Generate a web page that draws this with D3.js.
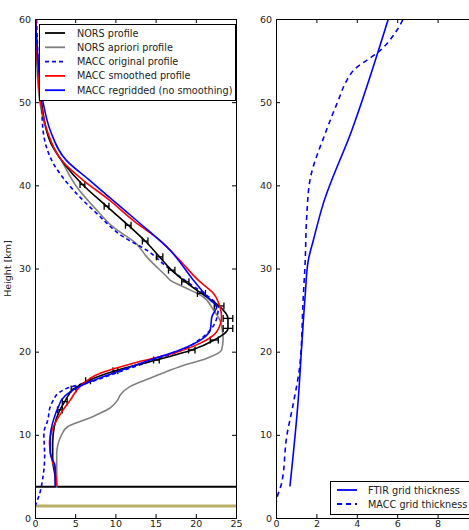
<!DOCTYPE html>
<html>
<head>
<meta charset="utf-8">
<script src="https://cdn.jsdelivr.net/npm/d3@7"></script>
<style>
  body { margin: 0; background: #fff; }
  svg { display: block; font-family: "DejaVu Sans", sans-serif; }
</style>
</head>
<body>
<svg width="469" height="530"></svg>
<script>
(function (d3) {
  'use strict';

  // left panel: profiles (x value, height km)
  var norsH   = [3.8, 5, 7, 9, 11, 13, 14.0, 15.5, 16.5, 17.7, 19.0, 20.2, 21.4, 22.8, 24.0, 25.5, 27.0, 28.4, 29.8, 31.4, 33.3, 35.2, 37.5, 40.1, 42.5, 45, 50, 55, 60];
  var norsV   = [2.6, 2.5, 2.2, 2.2, 2.4, 3.1, 3.7, 4.8, 6.6, 10.0, 15.1, 19.5, 22.3, 24.0, 24.0, 22.9, 20.7, 18.7, 17.0, 15.5, 13.7, 11.6, 8.9, 5.9, 3.7, 2.0, 0.8, 0.3, 0.1];
  var norsErr = [0, 0, 0, 0, 0, 0.3, 0.3, 0.3, 0.3, 0.3, 0.35, 0.4, 0.5, 0.6, 0.6, 0.6, 0.5, 0.45, 0.4, 0.4, 0.35, 0.35, 0.3, 0.3, 0, 0, 0, 0, 0];

  var aprH = [3.6, 6.2, 7.8, 9.0, 10.0, 11.0, 11.8, 12.6, 13.2, 14.2, 14.8, 15.8, 16.8, 18.2, 19.2, 20.2, 21.5, 22.6, 24.0, 25.0, 26.6, 27.6, 28.6, 29.0, 31.4, 33.0, 35.0, 37.0, 39.8, 42.6, 45.4, 50, 55, 60];
  var aprV = [2.7, 2.7, 2.7, 2.9, 3.3, 4.1, 6.2, 8.1, 9.3, 10.3, 10.6, 11.8, 14.3, 18.0, 21.4, 23.2, 23.4, 23.3, 22.9, 22.2, 20.9, 18.9, 16.8, 16.4, 13.9, 12.6, 9.7, 7.7, 5.2, 3.5, 1.9, 0.6, 0.2, 0.05];

  var maccOrigH = [1.4, 3.0, 5.0, 7.4, 10.2, 11.8, 13.4, 14.2, 15.0, 15.6, 16.4, 17.4, 19.0, 20.2, 21.4, 22.6, 24.0, 25.4, 26.6, 28.0, 30.2, 32.2, 33.8, 36.6, 39.4, 42.6, 46.6, 49.9, 55, 60];
  var maccOrigV = [0, 0.6, 1.0, 1.2, 1.1, 1.6, 1.9, 2.3, 2.9, 4.0, 7.0, 10.0, 14.8, 18.3, 20.4, 21.8, 22.6, 22.8, 21.6, 19.5, 16.4, 13.9, 11.0, 7.7, 4.8, 2.3, 1.0, 0.8, 0.4, 0.2];

  var maccSmoothH = [3.8, 5.8, 7.0, 9.0, 11.0, 13.0, 14.2, 15.8, 17.4, 18.6, 19.8, 21.0, 22.4, 24.2, 25.4, 27.0, 28.6, 31.0, 33.4, 35.8, 38.2, 40.6, 42.8, 46.6, 50, 55, 60];
  var maccSmoothV = [2.7, 2.5, 2.1, 1.8, 2.3, 3.5, 4.4, 5.6, 8.1, 12.2, 17.2, 20.5, 22.6, 23.2, 23.0, 22.2, 20.3, 18.0, 15.5, 12.2, 9.3, 6.0, 3.5, 1.5, 0.7, 0.3, 0.1];

  var maccRegH = [3.8, 6.2, 7.8, 9.8, 11.8, 13.8, 14.2, 15.2, 16.2, 17.4, 19.0, 20.2, 21.6, 22.6, 24.2, 25.4, 26.2, 28.6, 32.2, 35.8, 38.2, 40.6, 43.0, 46.6, 50, 55, 60];
  var maccRegV = [2.5, 2.5, 1.9, 1.9, 2.3, 3.1, 3.3, 4.4, 6.4, 9.7, 14.3, 18.0, 20.9, 21.8, 22.0, 22.6, 21.8, 19.7, 16.8, 12.6, 9.7, 6.8, 3.9, 1.9, 1.0, 0.4, 0.05];

  // reference heights (horizontal lines)
  var stationAlt = 3.77;
  var groundAlt = 1.45;

  // right panel: grid thickness
  var ftirH = [3.8, 14.2, 20.6, 26.6, 31.0, 33.4, 37.8, 46.6, 60];
  var ftirV = [0.69, 1.1, 1.27, 1.44, 1.6, 1.85, 2.34, 3.75, 5.56];
  var maccGridH = [1.5, 2.2, 4.2, 9.8, 13.8, 18.6, 26.6, 30.6, 36.2, 40.6, 46.2, 50.2, 52.6, 53.8, 56.2, 58.7, 60];
  var maccGridV = [0, 0.03, 0.28, 0.53, 0.86, 1.19, 1.35, 1.44, 1.52, 1.68, 2.43, 3.08, 3.5, 3.83, 5.15, 6.0, 6.3];

  var leftTicksX = [0, 5, 10, 15, 20, 25];
  var rightTicksX = [0, 2, 4, 6, 8];
  var ticksY = [0, 10, 20, 30, 40, 50, 60];

  var svg = d3.select('svg');

  var top = 19, bottom = 518;
  var y = d3.scaleLinear().domain([0, 60]).range([bottom, top]);
  var xL = d3.scaleLinear().domain([0, 25]).range([35, 236]);
  var xR = d3.scaleLinear().domain([0, 10]).range([276, 478]);

  function zip(h, v) {
    return h.map(function (d, i) { return { h: d, v: v[i] }; });
  }

  function drawFrame(x, xticks) {
    var x0 = x.range()[0], x1 = x.range()[1];
    var g = svg.append('g');
    g.append('g').attr('transform', 'translate(0,' + bottom + ')')
      .call(d3.axisBottom(x).tickValues(xticks).tickSize(-4).tickPadding(2).tickFormat(d3.format('d')));
    g.append('g').attr('transform', 'translate(0,' + top + ')')
      .call(d3.axisTop(x).tickValues(xticks).tickSize(-4).tickFormat(''));
    g.append('g').attr('transform', 'translate(' + x0 + ',0)')
      .call(d3.axisLeft(y).tickValues(ticksY).tickSize(-4).tickPadding(4).tickFormat(d3.format('d')));
    g.append('g').attr('transform', 'translate(' + x1 + ',0)')
      .call(d3.axisRight(y).tickValues(ticksY).tickSize(-4).tickFormat(''));
    g.selectAll('.domain').attr('stroke', '#000');
    g.selectAll('.tick line').attr('stroke', '#000');
    g.selectAll('text').attr('font-size', 9.5).attr('fill', '#222')
      .attr('font-family', '"DejaVu Sans", sans-serif');
    return g;
  }

  function drawLine(g, x, h, v, color, dash) {
    var line = d3.line()
      .x(function (d) { return x(d.v); })
      .y(function (d) { return y(d.h); })
      .curve(d3.curveMonotoneY);
    g.append('path')
      .datum(zip(h, v))
      .attr('d', line)
      .attr('fill', 'none')
      .attr('stroke', color)
      .attr('stroke-width', 1.6)
      .attr('stroke-dasharray', dash || null);
  }

  // clip paths
  var defs = svg.append('defs');
  defs.append('clipPath').attr('id', 'clipL').append('rect')
    .attr('x', 35).attr('y', top).attr('width', 201).attr('height', bottom - top);
  defs.append('clipPath').attr('id', 'clipR').append('rect')
    .attr('x', 276).attr('y', top).attr('width', 202).attr('height', bottom - top);

  // ----- left panel
  var gL = svg.append('g').attr('clip-path', 'url(#clipL)');
  gL.append('line').attr('x1', xL(0)).attr('x2', xL(25))
    .attr('y1', y(groundAlt)).attr('y2', y(groundAlt))
    .attr('stroke', '#b8b068').attr('stroke-width', 3);
  gL.append('line').attr('x1', xL(0)).attr('x2', xL(25))
    .attr('y1', y(stationAlt)).attr('y2', y(stationAlt))
    .attr('stroke', '#000').attr('stroke-width', 2);

  drawLine(gL, xL, aprH, aprV, '#808080');
  drawLine(gL, xL, maccOrigH, maccOrigV, '#0000ff', '4,3');
  drawLine(gL, xL, norsH, norsV, '#000');

  // error bars on NORS profile
  var eb = gL.append('g').selectAll('g')
    .data(zip(norsH, norsV).map(function (d, i) { d.e = norsErr[i]; return d; })
      .filter(function (d) { return d.e > 0; }))
    .enter().append('g')
    .attr('stroke', '#000').attr('stroke-width', 1.3);
  eb.append('line')
    .attr('x1', function (d) { return xL(d.v - d.e); })
    .attr('x2', function (d) { return xL(d.v + d.e); })
    .attr('y1', function (d) { return y(d.h); })
    .attr('y2', function (d) { return y(d.h); });
  eb.append('line')
    .attr('x1', function (d) { return xL(d.v - d.e); })
    .attr('x2', function (d) { return xL(d.v - d.e); })
    .attr('y1', function (d) { return y(d.h) - 3.5; })
    .attr('y2', function (d) { return y(d.h) + 3.5; });
  eb.append('line')
    .attr('x1', function (d) { return xL(d.v + d.e); })
    .attr('x2', function (d) { return xL(d.v + d.e); })
    .attr('y1', function (d) { return y(d.h) - 3.5; })
    .attr('y2', function (d) { return y(d.h) + 3.5; });

  drawLine(gL, xL, maccSmoothH, maccSmoothV, '#ff0000');
  drawLine(gL, xL, maccRegH, maccRegV, '#0000ff');

  drawFrame(xL, leftTicksX);

  svg.append('text')
    .attr('transform', 'translate(11,' + ((top + bottom) / 2) + ') rotate(-90)')
    .attr('text-anchor', 'middle')
    .attr('font-size', 9.5).attr('fill', '#222')
    .text('Height [km]');

  // left legend
  var legL = [
    { name: 'NORS profile', color: '#000', dash: null },
    { name: 'NORS apriori profile', color: '#808080', dash: null },
    { name: 'MACC original profile', color: '#0000ff', dash: '4,3' },
    { name: 'MACC smoothed profile', color: '#ff0000', dash: null },
    { name: 'MACC regridded (no smoothing)', color: '#0000ff', dash: null }
  ];
  var lg = svg.append('g');
  lg.append('rect').attr('x', 39.5).attr('y', 24.5).attr('width', 196).attr('height', 76)
    .attr('fill', '#fff').attr('stroke', '#000').attr('stroke-width', 1);
  legL.forEach(function (d, i) {
    var yy = 33 + i * 14.3;
    lg.append('line').attr('x1', 45).attr('x2', 65).attr('y1', yy).attr('y2', yy)
      .attr('stroke', d.color).attr('stroke-width', 1.8).attr('stroke-dasharray', d.dash);
    lg.append('text').attr('x', 77).attr('y', yy + 3.5)
      .attr('font-size', 9.7).attr('fill', '#222').text(d.name);
  });

  // ----- right panel
  var gR = svg.append('g').attr('clip-path', 'url(#clipR)');
  drawLine(gR, xR, ftirH, ftirV, '#0000ff');
  drawLine(gR, xR, maccGridH, maccGridV, '#0000ff', '5,4');
  drawFrame(xR, rightTicksX);

  var legR = [
    { name: 'FTIR grid thickness', dash: null },
    { name: 'MACC grid thickness', dash: '5,4' }
  ];
  var rg = svg.append('g');
  rg.append('rect').attr('x', 330.5).attr('y', 481.5).attr('width', 146).attr('height', 33)
    .attr('fill', '#fff').attr('stroke', '#000').attr('stroke-width', 1);
  legR.forEach(function (d, i) {
    var yy = 490 + i * 14;
    rg.append('line').attr('x1', 337).attr('x2', 357).attr('y1', yy).attr('y2', yy)
      .attr('stroke', '#0000ff').attr('stroke-width', 1.8).attr('stroke-dasharray', d.dash);
    rg.append('text').attr('x', 368).attr('y', yy + 3.5)
      .attr('font-size', 9.7).attr('fill', '#222').text(d.name);
  });

}(d3));
</script>
</body>
</html>
